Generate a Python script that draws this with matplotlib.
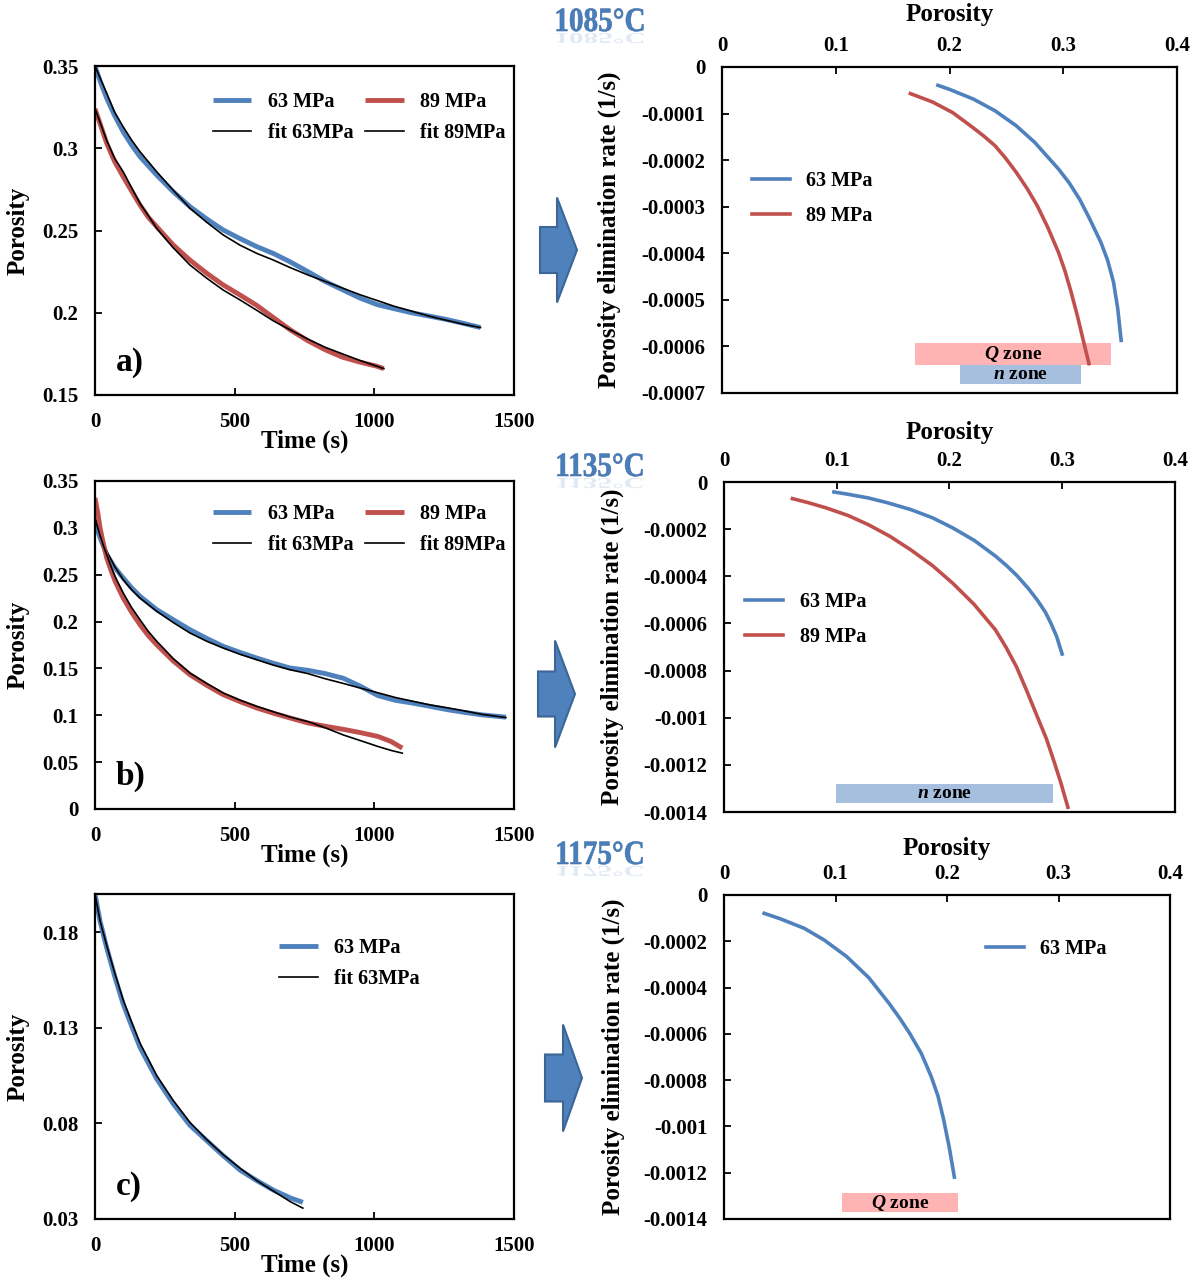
import matplotlib
matplotlib.use("Agg")
import matplotlib.pyplot as plt
from matplotlib.patches import Polygon, Rectangle, PathPatch
from matplotlib.textpath import TextPath
from matplotlib.font_manager import FontProperties
import matplotlib.transforms as mtransforms

plt.rcParams['font.family'] = ['Liberation Serif', 'DejaVu Serif']
plt.rcParams['font.weight'] = 'bold'
plt.rcParams['axes.labelweight'] = 'bold'
plt.rcParams['axes.unicode_minus'] = False
plt.rcParams['mathtext.fontset'] = 'custom'
plt.rcParams['mathtext.it'] = 'Liberation Serif:italic:bold'
plt.rcParams['mathtext.rm'] = 'Liberation Serif:bold'

BLUE = '#4f81bd'
RED = '#c0504d'

# ---------------- data: porosity vs time ----------------
# 1085 C
a63_t = [0, 20, 42, 70, 101, 131, 161, 221, 280, 340, 400, 459, 520, 579, 639, 698, 762,
         824, 886, 948, 1009, 1070, 1133, 1195, 1256, 1320, 1380]
a63_p = [0.350, 0.340, 0.3304, 0.320, 0.310, 0.302, 0.2949, 0.2837, 0.2736, 0.2645, 0.257, 0.2503,
         0.2450, 0.2402, 0.2360, 0.2310, 0.2250, 0.2190, 0.2140, 0.2090, 0.2050, 0.2025, 0.2000,
         0.1980, 0.1960, 0.1935, 0.1910]
a63_fit = [0.350, 0.342, 0.3334, 0.322, 0.313, 0.305, 0.2979, 0.2857, 0.2745, 0.2635, 0.255, 0.2473,
           0.2410, 0.2361, 0.2320, 0.2275, 0.2230, 0.2190, 0.2150, 0.2110, 0.2075, 0.2040, 0.2010,
           0.1980, 0.1955, 0.1930, 0.1910]
a89_t = [0, 20, 42, 70, 101, 131, 161, 191, 221, 280, 340, 400, 459, 519, 579, 639, 700, 762,
         824, 886, 948, 1009, 1034]
a89_p = [0.324, 0.314, 0.303, 0.292, 0.2827, 0.274, 0.2655, 0.258, 0.2523, 0.2412, 0.232, 0.224,
         0.2169, 0.2108, 0.2045, 0.197, 0.1895, 0.1830, 0.1775, 0.1730, 0.1700, 0.1675, 0.1660]
a89_fit = [0.324, 0.315, 0.3046, 0.294, 0.2857, 0.276, 0.2665, 0.259, 0.2513, 0.2395, 0.229, 0.221,
           0.2138, 0.2078, 0.2015, 0.1950, 0.1895, 0.1840, 0.1790, 0.1750, 0.1710, 0.1675, 0.1660]

# 1135 C
b63_t = [0, 20, 42, 70, 101, 131, 161, 221, 280, 340, 400, 459, 520, 579, 639, 698, 762, 824,
         889, 950, 1013, 1075, 1137, 1200, 1261, 1325, 1385, 1471]
b63_p = [0.305, 0.288, 0.2714, 0.258, 0.2465, 0.236, 0.227, 0.2127, 0.202, 0.1913, 0.182, 0.1736,
         0.167, 0.1611, 0.1555, 0.1505, 0.148, 0.1445, 0.1395, 0.131, 0.121, 0.116, 0.113, 0.1095,
         0.106, 0.103, 0.1005, 0.098]
b63_fit = [0.3105, 0.292, 0.275, 0.259, 0.2447, 0.234, 0.2251, 0.211, 0.199, 0.1878, 0.179, 0.1718,
           0.165, 0.1593, 0.1535, 0.1486, 0.1445, 0.139, 0.134, 0.129, 0.124, 0.119, 0.115, 0.111,
           0.108, 0.1045, 0.101, 0.0976]
b89_t = [0, 10, 18, 30, 42, 57, 72, 101, 131, 161, 191, 221, 280, 340, 400, 459, 520, 579, 641,
         700, 765, 830, 889, 950, 1013, 1060, 1100]
b89_p = [0.332, 0.316, 0.300, 0.283, 0.2678, 0.255, 0.243, 0.2251, 0.210, 0.1967, 0.185, 0.1753,
         0.158, 0.1433, 0.132, 0.122, 0.1145, 0.1078, 0.102, 0.097, 0.0916, 0.088, 0.085, 0.0815,
         0.0774, 0.072, 0.065]
b89_fit = [0.3105, 0.300, 0.292, 0.281, 0.2714, 0.259, 0.248, 0.2305, 0.215, 0.202, 0.1895, 0.179,
           0.1605, 0.1451, 0.134, 0.1238, 0.116, 0.1096, 0.1035, 0.098, 0.093, 0.086, 0.079, 0.073,
           0.0667, 0.0625, 0.0596]

# 1175 C
c63_t = [0, 18, 42, 72, 101, 131, 161, 221, 280, 340, 400, 460, 520, 580, 640, 700, 744]
c63_p = [0.200, 0.1858, 0.1718, 0.1562, 0.1424, 0.131, 0.1198, 0.1033, 0.0903, 0.079, 0.071,
         0.063, 0.0555, 0.050, 0.045, 0.041, 0.0387]
c63_fit = [0.200, 0.186, 0.173, 0.158, 0.1445, 0.133, 0.122, 0.105, 0.092, 0.0805, 0.0715, 0.0635,
           0.0565, 0.050, 0.0445, 0.039, 0.0357]

# ---------------- data: elimination rate vs porosity ----------------
r1_63_x = [0.1898, 0.200, 0.2214, 0.240, 0.2586, 0.275, 0.2958, 0.305, 0.3144, 0.323, 0.333,
           0.339, 0.3442, 0.3479, 0.3509]
r1_63_y = [-0.0000393, -0.000048, -0.0000693, -0.000094, -0.000126, -0.000162, -0.000219, -0.000248,
           -0.000284, -0.000325, -0.000376, -0.000415, -0.000462, -0.000519, -0.000587]
r1_89_x = [0.1656, 0.185, 0.2028, 0.22, 0.23, 0.24, 0.2494, 0.2586, 0.268, 0.2772, 0.2865, 0.2958,
           0.3015, 0.307, 0.3125, 0.318, 0.3226]
r1_89_y = [-0.0000571, -0.000075, -0.0000979, -0.000129, -0.000148, -0.000169, -0.000196, -0.000226,
           -0.000260, -0.000298, -0.000345, -0.000398, -0.000438, -0.000484, -0.000535, -0.000591,
           -0.000637]

r2_63_x = [0.0975, 0.11, 0.128, 0.145, 0.1657, 0.185, 0.203, 0.222, 0.2407, 0.250, 0.260, 0.270,
           0.278, 0.285, 0.290, 0.295, 0.2999]
r2_63_y = [-0.0000423, -0.000052, -0.0000677, -0.000088, -0.000117, -0.000152, -0.000195, -0.000248,
           -0.000314, -0.000352, -0.000398, -0.000452, -0.000502, -0.000552, -0.000600, -0.000655,
           -0.00073]
r2_89_x = [0.0607, 0.075, 0.0907, 0.11, 0.128, 0.147, 0.1657, 0.185, 0.203, 0.222, 0.2407, 0.250,
           0.2594, 0.268, 0.278, 0.286, 0.293, 0.299, 0.305]
r2_89_y = [-0.0000705, -0.000088, -0.00011, -0.000142, -0.000181, -0.00023, -0.000288, -0.000355,
           -0.00043, -0.00052, -0.000627, -0.000700, -0.000784, -0.00088, -0.000997, -0.00109,
           -0.00119, -0.00128, -0.00138]

r3_63_x = [0.036, 0.05, 0.072, 0.09, 0.11, 0.13, 0.148, 0.158, 0.1668, 0.177, 0.1858, 0.192,
           0.197, 0.202, 0.2066]
r3_63_y = [-0.0000791, -0.000102, -0.000144, -0.000195, -0.000266, -0.000358, -0.000468, -0.000535,
           -0.000600, -0.000685, -0.000784, -0.000870, -0.000971, -0.00109, -0.001219]

# zones: (x0, x1, y0, y1, label, color)
zones1 = [(0.170, 0.3416, -0.000639, -0.000593, r'$\it{Q}$ zone', '#ffb3b3'),
          (0.209, 0.3155, -0.000681, -0.000639, r'$\it{n}$ zone', '#a7bfde')]
zones2 = [(0.099, 0.2917, -0.00136, -0.00128, r'$\it{n}$ zone', '#a7bfde')]
zones3 = [(0.106, 0.2097, -0.001371, -0.001288, r'$\it{Q}$ zone', '#ffb3b3')]

temps = ['1085°C', '1135°C', '1175°C']

W, H = 1192, 1281
fig = plt.figure(figsize=(W / 100, H / 100), dpi=100)


def px_rect(l, t, r, b):
    return [l / W, 1 - b / H, (r - l) / W, (b - t) / H]


def style_axes(ax):
    for s in ax.spines.values():
        s.set_linewidth(1.6)
    ax.tick_params(direction='in', length=5, width=1.3, labelsize=15, pad=12)


def left_panel(rect, ylim, yticks, series, letter, legend_anchor, ncol):
    ax = fig.add_axes(px_rect(*rect))
    style_axes(ax)
    handles = []
    for t, p, fit, col, name in series:
        h1, = ax.plot(t, p, color=col, lw=3.5, solid_capstyle='butt', solid_joinstyle='round', label=name)
        h2, = ax.plot(t, fit, color='black', lw=1.2, label='fit ' + name.replace(' ', ''))
        handles.append((h1, h2))
    order = [h for pair in handles for h in pair]
    ax.legend(handles=order, loc='upper left', bbox_to_anchor=legend_anchor, ncol=ncol,
              frameon=False, fontsize=14.5, handlelength=1.9, handletextpad=0.8,
              columnspacing=0.6, labelspacing=0.55, borderpad=0, borderaxespad=0)
    ax.set_xlim(0, 1500)
    ax.set_xticks([0, 500, 1000, 1500])
    ax.set_ylim(*ylim)
    ax.set_yticks(yticks)
    ax.set_yticklabels(['%g' % v for v in yticks])
    ax.set_xlabel('Time (s)', fontsize=18)
    ax.set_ylabel('Porosity', fontsize=18)
    ax.xaxis.set_label_coords(0.5, -0.105)
    ax.yaxis.set_label_coords(-0.155, 0.5)
    ax.text(0.05, 0.1, letter, transform=ax.transAxes, fontsize=24, va='center')
    return ax


def right_panel(rect, ylim, yticks, series, zones, legend_anchor, label_y):
    ax = fig.add_axes(px_rect(*rect))
    style_axes(ax)
    ax.xaxis.tick_top()
    ax.xaxis.set_label_position('top')
    ax.tick_params(axis='x', pad=8)
    for z in zones:
        x0, x1, y0, y1, lab, col = z
        ax.add_patch(Rectangle((x0, y0), x1 - x0, y1 - y0, color=col, lw=0, zorder=1))
        ax.text((x0 + x1) / 2, (y0 + y1) / 2, lab, ha='center', va='center', fontsize=14, zorder=4)
    for x, y, col, name in series:
        ax.plot(x, y, color=col, lw=2.6, label=name, zorder=3, solid_joinstyle='round')
    ax.legend(loc='upper left', bbox_to_anchor=legend_anchor, frameon=False, fontsize=14.5,
              handlelength=1.9, handletextpad=0.8, labelspacing=0.75, borderpad=0, borderaxespad=0)
    ax.set_xlim(0, 0.4)
    ax.set_xticks([0, 0.1, 0.2, 0.3, 0.4])
    ax.set_xticklabels(['%g' % v for v in [0, 0.1, 0.2, 0.3, 0.4]])
    ax.set_ylim(*ylim)
    ax.set_yticks(yticks)
    ax.set_yticklabels(['%g' % v for v in yticks])
    ax.set_xlabel('Porosity', fontsize=18)
    ax.set_ylabel('Porosity elimination rate (1/s)', fontsize=18)
    ax.xaxis.set_label_coords(0.5, label_y)
    ax.yaxis.set_label_coords(-0.222, 0.5)
    return ax


left_panel((95, 66, 514, 395), (0.15, 0.35), [0.15, 0.2, 0.25, 0.3, 0.35],
           [(a63_t, a63_p, a63_fit, BLUE, '63 MPa'), (a89_t, a89_p, a89_fit, RED, '89 MPa')],
           'a)', (0.282, 0.92), 2)
left_panel((95, 481, 514, 809), (0, 0.35), [0, 0.05, 0.1, 0.15, 0.2, 0.25, 0.3, 0.35],
           [(b63_t, b63_p, b63_fit, BLUE, '63 MPa'), (b89_t, b89_p, b89_fit, RED, '89 MPa')],
           'b)', (0.282, 0.93), 2)
left_panel((95, 894, 514, 1219), (0.03, 0.2), [0.03, 0.08, 0.13, 0.18],
           [(c63_t, c63_p, c63_fit, BLUE, '63 MPa')],
           'c)', (0.44, 0.866), 1)

right_panel((722, 67, 1177, 393), (-0.0007, 0), [-0.0007 + 0.0001 * i for i in range(8)],
            [(r1_63_x, r1_63_y, BLUE, '63 MPa'), (r1_89_x, r1_89_y, RED, '89 MPa')],
            zones1, (0.066, 0.68), 1.14)
right_panel((724, 482, 1175, 812), (-0.0014, 0), [-0.0014 + 0.0002 * i for i in range(8)],
            [(r2_63_x, r2_63_y, BLUE, '63 MPa'), (r2_89_x, r2_89_y, RED, '89 MPa')],
            zones2, (0.047, 0.668), 1.13)
right_panel((724, 895, 1170, 1219), (-0.0014, 0), [-0.0014 + 0.0002 * i for i in range(8)],
            [(r3_63_x, r3_63_y, BLUE, '63 MPa')],
            zones3, (0.587, 0.865), 1.125)

# figure pixel transform (origin top-left)
pix = mtransforms.Affine2D().scale(1 / W, -1 / H).translate(0, 1) + fig.transFigure


def block_arrow(x0, yc, x1, shaft_h, head_h, neck):
    pts = [(x0, yc - shaft_h / 2), (neck, yc - shaft_h / 2), (neck, yc - head_h / 2), (x1, yc),
           (neck, yc + head_h / 2), (neck, yc + shaft_h / 2), (x0, yc + shaft_h / 2)]
    fig.patches.append(Polygon(pts, closed=True, transform=pix, facecolor=BLUE,
                               edgecolor='#3b6695', lw=1.5))


block_arrow(540, 250, 577, 46, 105, 557)
block_arrow(538, 694, 575, 45, 107, 555)
block_arrow(545, 1078, 582, 47, 107, 563)

# temperature labels with a faint reflection
fp = FontProperties(family='Liberation Serif', weight='bold')
for label, (cx, base) in zip(temps, [(600, 31), (600, 476), (600, 864)]):
    tp = TextPath((0, 0), label, size=34, prop=fp)
    bb = tp.get_extents()
    wscale = 0.86
    tx = mtransforms.Affine2D().translate(-bb.width / 2 - bb.x0, 0).scale(wscale, -1).translate(cx, base)
    fig.patches.append(PathPatch(tp, transform=tx + pix, facecolor='#4a7ebb', edgecolor='#3a6aa5', lw=0.4))
    rx = mtransforms.Affine2D().translate(-bb.width / 2 - bb.x0, 0).scale(wscale, 0.45).translate(cx, base + 2)
    fig.patches.append(PathPatch(tp, transform=rx + pix, facecolor='#4a7ebb', edgecolor='none', alpha=0.16))

fig.savefig('out.png', dpi=100)
